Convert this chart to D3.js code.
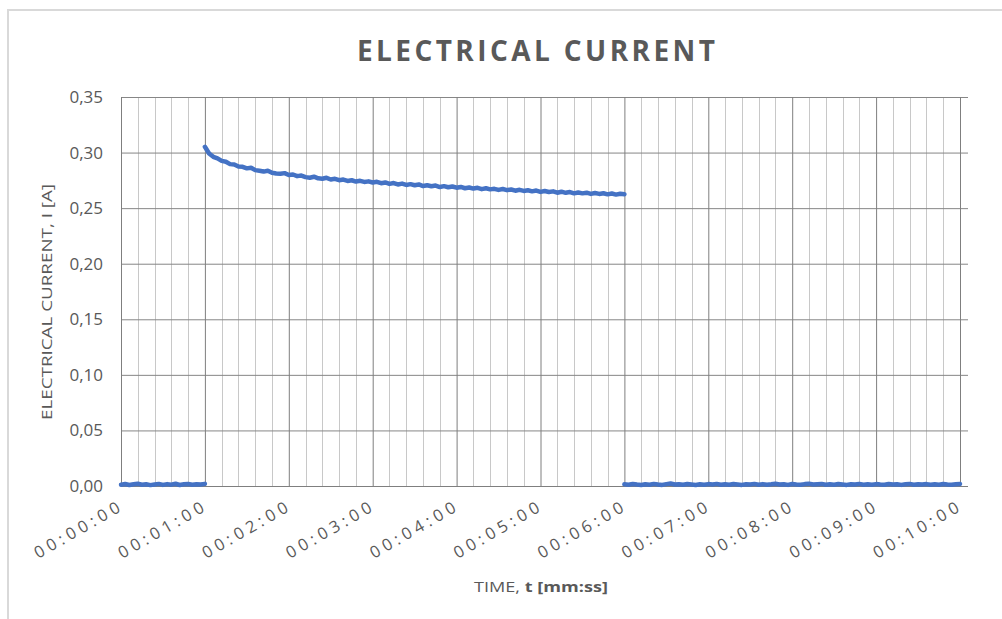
<!DOCTYPE html>
<html>
<head>
<meta charset="utf-8">
<script src="https://cdn.jsdelivr.net/npm/d3@7"></script>
<style>
  body { margin: 0; background: #fff; }
  text { font-family: "Open Sans", sans-serif; fill: #595959; }
</style>
</head>
<body>
<div id="mount"></div>
<script>
// sample interval of the logger, seconds
var step = 3;

// 00:00 - 01:00, supply off
var offBefore = [0.0012, 0.0018, 0.0009, 0.0015, 0.0021, 0.0011, 0.0016, 0.0008, 0.0014, 0.0019, 0.0010,
  0.0017, 0.0012, 0.0020, 0.0009, 0.0015, 0.0018, 0.0011, 0.0016, 0.0013, 0.0019];

// 01:00 - 06:00, supply on
var onValues = [0.3052, 0.2992, 0.2962, 0.2948, 0.2925, 0.2918, 0.2896, 0.2893, 0.2875, 0.2872,
  0.2858, 0.2864, 0.2842, 0.2836, 0.2829, 0.2837, 0.2818, 0.2812, 0.2809, 0.2815,
  0.2798, 0.2803, 0.2788, 0.2793, 0.2779, 0.2774, 0.2783, 0.2768, 0.2764, 0.2773,
  0.2758, 0.2764, 0.2751, 0.2757, 0.2745, 0.2751, 0.2739, 0.2746, 0.2736, 0.2741,
  0.2731, 0.2737, 0.2724, 0.2731, 0.2718, 0.2726, 0.2713, 0.2721, 0.2709, 0.2716,
  0.2706, 0.2713, 0.2699, 0.2706, 0.2697, 0.2703, 0.2690, 0.2698, 0.2688, 0.2695,
  0.2684, 0.2691, 0.2679, 0.2686, 0.2676, 0.2683, 0.2671, 0.2679, 0.2669, 0.2674,
  0.2664, 0.2672, 0.2662, 0.2668, 0.2657, 0.2665, 0.2655, 0.2661, 0.2651, 0.2658,
  0.2646, 0.2654, 0.2645, 0.2651, 0.2639, 0.2648, 0.2638, 0.2645, 0.2633, 0.2641,
  0.2633, 0.2639, 0.2628, 0.2636, 0.2628, 0.2634, 0.2624, 0.2632, 0.2622, 0.2630,
  0.2625];

// 06:00 - 10:00, supply off again
var offAfter = [0.0015, 0.0011, 0.0018, 0.0013, 0.0009, 0.0016, 0.0012, 0.0019, 0.0014, 0.0010,
  0.0017, 0.0022, 0.0013, 0.0016, 0.0011, 0.0018, 0.0014, 0.0009, 0.0015, 0.0012,
  0.0017, 0.0013, 0.0019, 0.0011, 0.0016, 0.0012, 0.0018, 0.0014, 0.0010, 0.0016,
  0.0013, 0.0019, 0.0012, 0.0017, 0.0011, 0.0015, 0.0020, 0.0013, 0.0016, 0.0010,
  0.0018, 0.0014, 0.0012, 0.0017, 0.0021, 0.0013, 0.0016, 0.0019, 0.0011, 0.0015,
  0.0012, 0.0018, 0.0014, 0.0010, 0.0016, 0.0013, 0.0019, 0.0012, 0.0015, 0.0011,
  0.0017, 0.0014, 0.0012, 0.0018, 0.0013, 0.0016, 0.0010, 0.0015, 0.0019, 0.0012,
  0.0016, 0.0013, 0.0017, 0.0011, 0.0015, 0.0012, 0.0018, 0.0014, 0.0011, 0.0016,
  0.0019];

var segments = [
  { start: 0, values: offBefore },
  { start: 60, values: onValues },
  { start: 360, values: offAfter }
];

var xTickSeconds = [0, 60, 120, 180, 240, 300, 360, 420, 480, 540, 600];
var xTickLabels = ['00:00:00', '00:01:00', '00:02:00', '00:03:00', '00:04:00', '00:05:00',
  '00:06:00', '00:07:00', '00:08:00', '00:09:00', '00:10:00'];
var yTicks = [0, 0.05, 0.10, 0.15, 0.20, 0.25, 0.30, 0.35];

var W = 1002, H = 619;
var plot = { left: 121, right: 968, top: 97, bottom: 486 };

var svg = d3.select('#mount').append('svg')
    .attr('width', W)
    .attr('height', H);

// chart frame
svg.append('rect')
    .attr('x', 8).attr('y', 10)
    .attr('width', 1200).attr('height', 800)
    .attr('fill', 'none')
    .attr('stroke', '#d9d9d9')
    .attr('stroke-width', 2);

var x = d3.scaleLinear().domain([0, 600]).range([plot.left, 960]);
var y = d3.scaleLinear().domain([0, 0.35]).range([plot.bottom, plot.top]);

var comma = d3.formatLocale({ decimal: ',', thousands: '.', grouping: [3], currency: ['', ''] }).format('.2f');

// minor vertical grid every 12 s
var minor = d3.range(0, 601, 12).filter(s => s % 60 !== 0);
svg.append('g')
    .selectAll('line')
    .data(minor)
  .enter().append('line')
    .attr('x1', d => Math.round(x(d)) + 0.5).attr('x2', d => Math.round(x(d)) + 0.5)
    .attr('y1', plot.top).attr('y2', plot.bottom)
    .attr('stroke', '#c8c8c8')
    .attr('stroke-width', 1);

// y axis with horizontal gridlines
var yAxis = svg.append('g')
    .attr('transform', `translate(${plot.left},0)`)
    .call(d3.axisLeft(y).tickValues(yTicks).tickSize(-(plot.right - plot.left)).tickPadding(18).tickFormat(comma));
yAxis.select('.domain').remove();
yAxis.selectAll('line').attr('stroke', '#868686');
yAxis.selectAll('text')
    .style('font-size', '17px')
    .attr('fill', '#595959');

// x axis with major vertical gridlines
var xAxis = svg.append('g')
    .attr('transform', `translate(0,${plot.bottom})`)
    .call(d3.axisBottom(x).tickValues(xTickSeconds).tickSize(-(plot.bottom - plot.top))
      .tickFormat((d, i) => xTickLabels[i]));
xAxis.select('.domain').remove();
xAxis.selectAll('line').attr('stroke', '#7f7f7f');
xAxis.selectAll('text')
    .attr('x', 0).attr('y', 0).attr('dy', 0)
    .attr('text-anchor', 'end')
    .attr('transform', 'translate(0,25) rotate(-30)')
    .attr('textLength', 96)
    .attr('lengthAdjust', 'spacing')
    .style('font-size', '16.5px')
    .attr('fill', '#595959');

// axis baseline
svg.append('line')
    .attr('x1', plot.left).attr('x2', plot.right)
    .attr('y1', plot.bottom + 0.5).attr('y2', plot.bottom + 0.5)
    .attr('stroke', '#7f7f7f');

// data line, one path per segment so the jumps stay open
var line = d3.line()
    .x(d => x(d.t))
    .y(d => y(d.v));

svg.append('g')
    .selectAll('path')
    .data(segments.map(s => s.values.map((v, i) => ({ t: s.start + i * step, v: v }))))
  .enter().append('path')
    .attr('d', line)
    .attr('fill', 'none')
    .attr('stroke', '#4472c4')
    .attr('stroke-width', 4.5)
    .attr('stroke-linejoin', 'round')
    .attr('stroke-linecap', 'round');

// title
svg.append('text')
    .attr('x', 536).attr('y', 61)
    .attr('text-anchor', 'middle')
    .attr('textLength', 358)
    .attr('lengthAdjust', 'spacing')
    .style('font-size', '28px')
    .style('font-weight', 'bold')
    .text('ELECTRICAL  CURRENT');

// axis titles
var xt = svg.append('text')
    .attr('x', 541).attr('y', 592)
    .attr('text-anchor', 'middle')
    .attr('textLength', 134)
    .attr('lengthAdjust', 'spacingAndGlyphs')
    .style('font-size', '14.5px');
xt.append('tspan').text('TIME, ');
xt.append('tspan').style('font-weight', 'bold').text('t [mm:ss]');

svg.append('text')
    .attr('transform', 'translate(52,302) rotate(-90)')
    .attr('text-anchor', 'middle')
    .attr('textLength', 236)
    .attr('lengthAdjust', 'spacingAndGlyphs')
    .style('font-size', '15px')
    .text('ELECTRICAL CURRENT, I [A]');
</script>
</body>
</html>
